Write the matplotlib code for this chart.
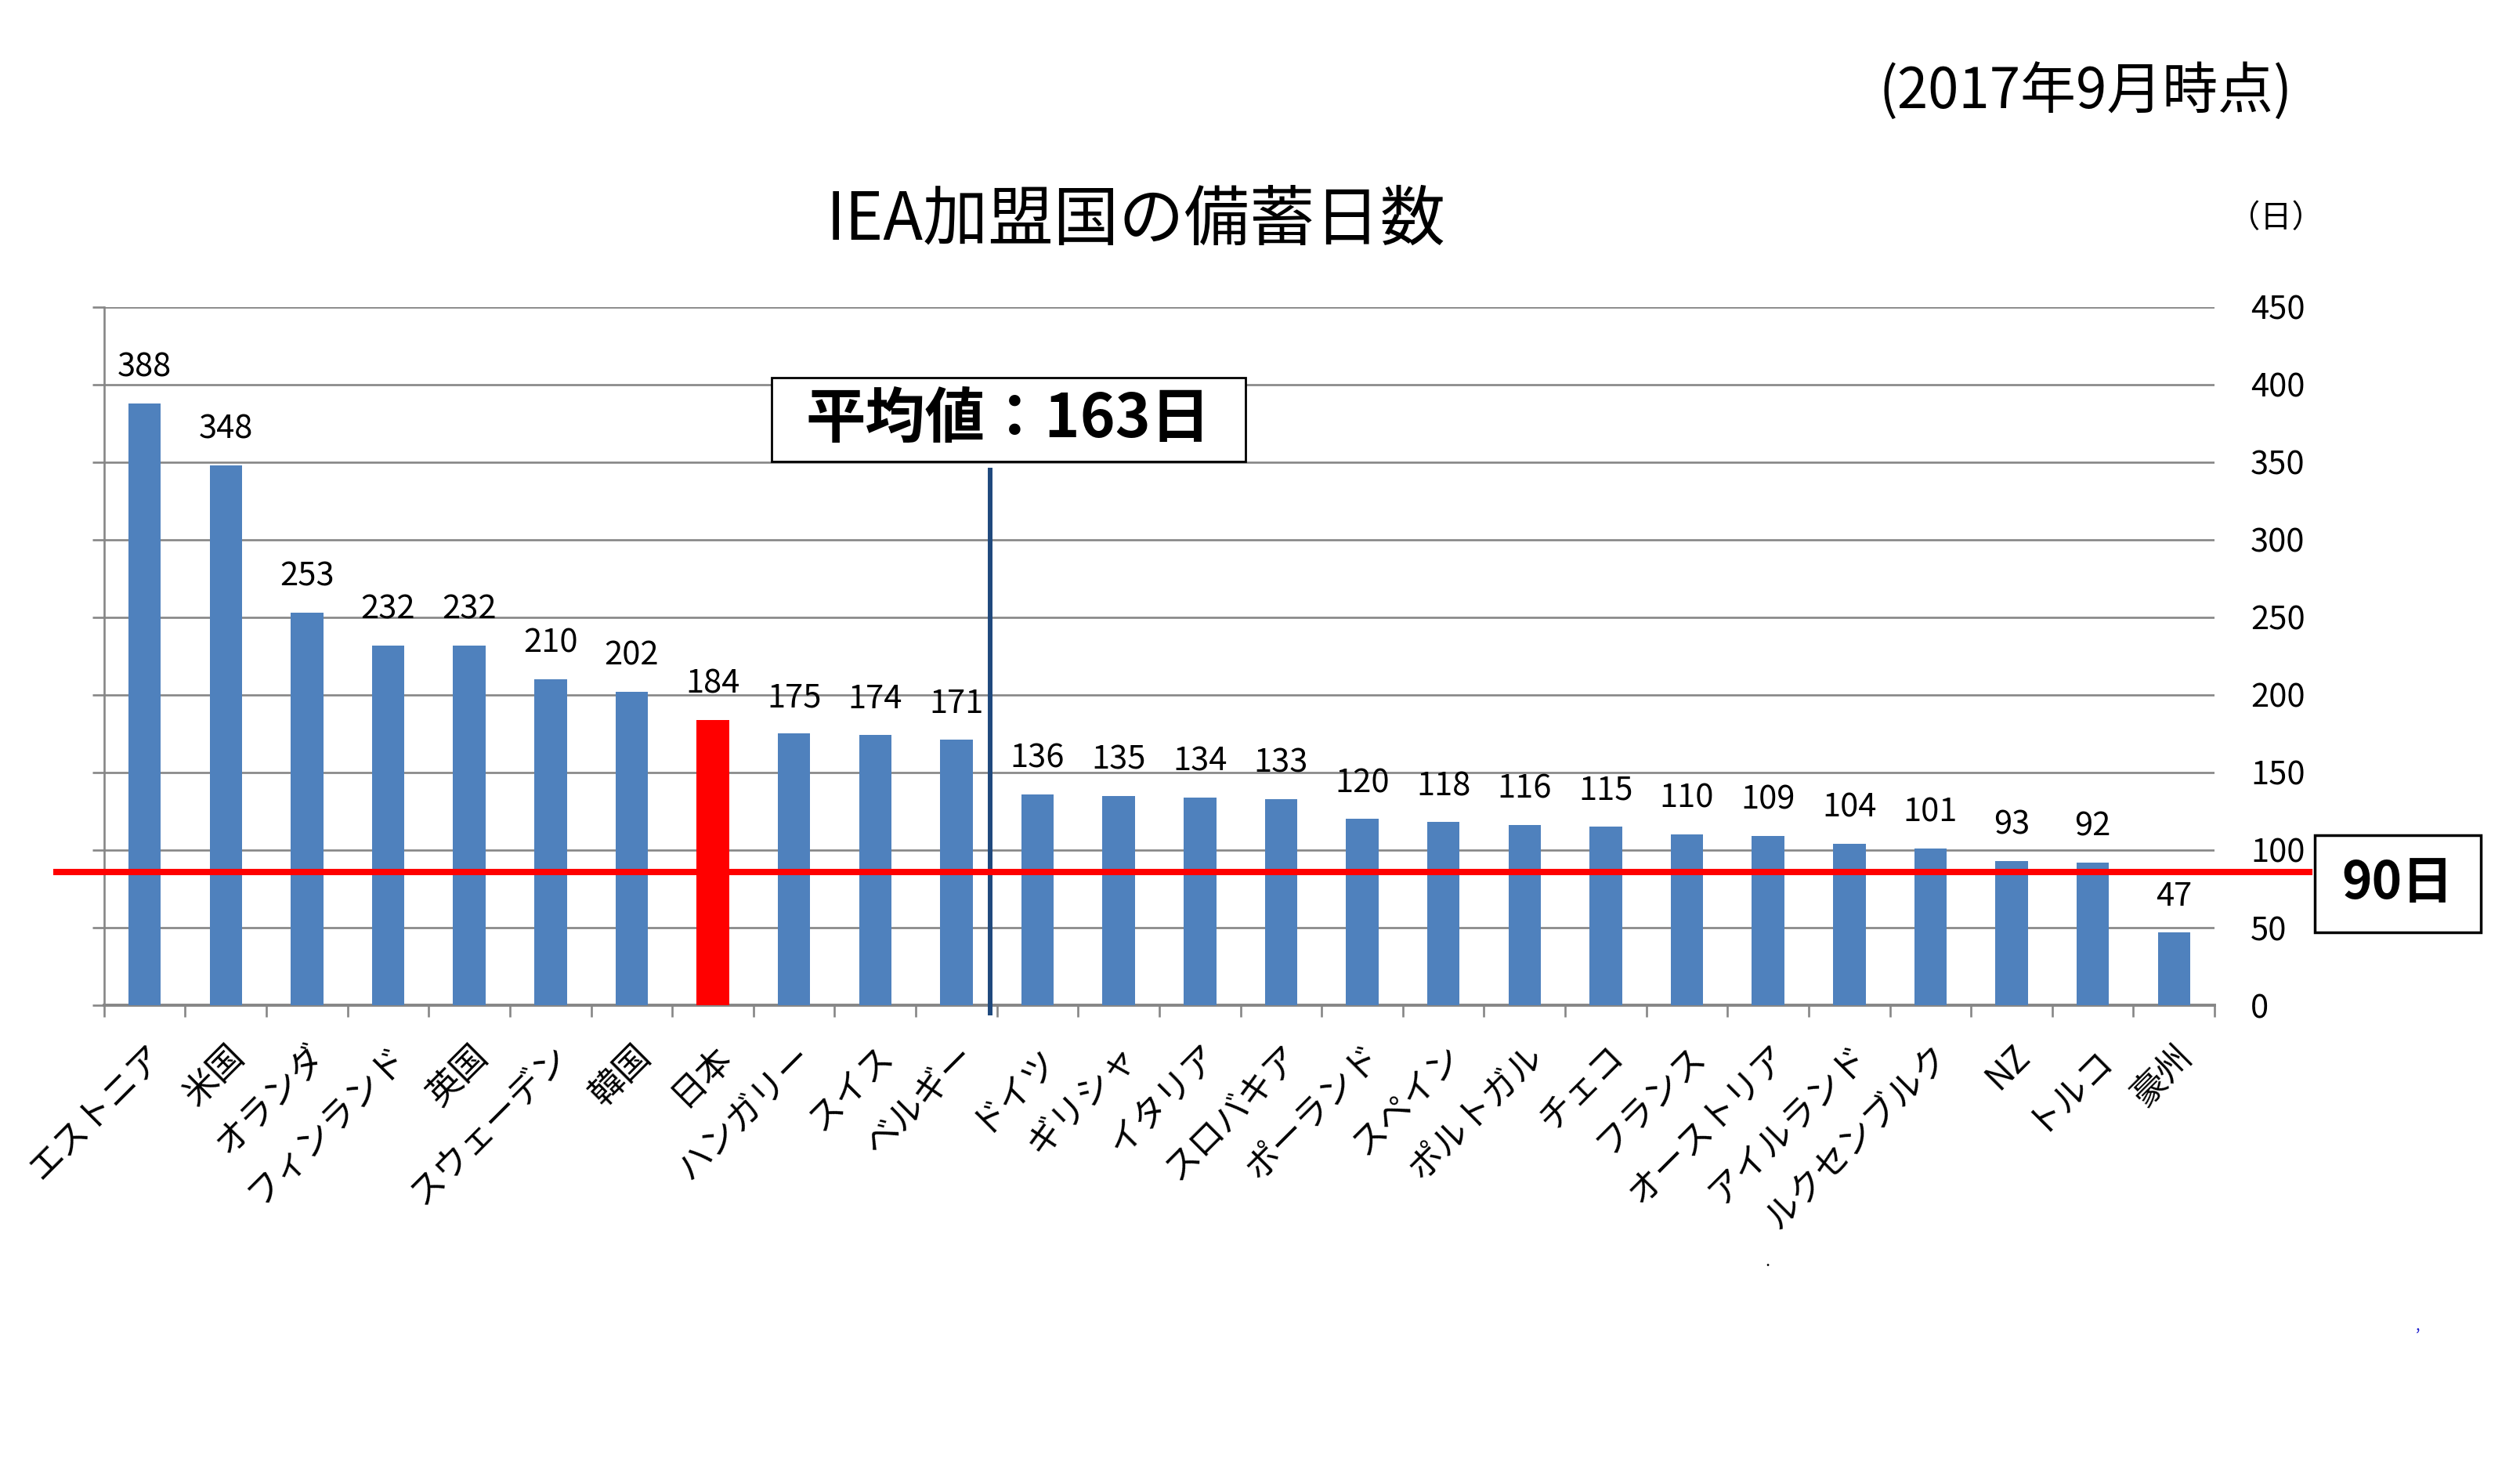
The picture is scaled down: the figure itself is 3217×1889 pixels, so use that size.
import matplotlib
matplotlib.use("Agg")
import matplotlib.pyplot as plt
from matplotlib.patches import Rectangle

plt.rcParams['font.family'] = ['Noto Sans CJK JP', 'DejaVu Sans']

# data (days of stockholding, Sep 2017)
countries = ["エストニア", "米国", "オランダ", "フィンランド", "英国", "スウェーデン", "韓国",
             "日本", "ハンガリー", "スイス", "ベルギー", "ドイツ", "ギリシャ", "イタリア",
             "スロバキア", "ポーランド", "スペイン", "ポルトガル", "チェコ", "フランス",
             "オーストリア", "アイルランド", "ルクセンブルク", "NZ", "トルコ", "豪州"]
days = [388, 348, 253, 232, 232, 210, 202, 184, 175, 174, 171, 136, 135, 134,
        133, 120, 118, 116, 115, 110, 109, 104, 101, 93, 92, 47]
highlight = "日本"
average_days = 163
required_days = 90
yticks = list(range(0, 451, 50))

BLUE = "#4F81BD"
RED = "#FF0000"
GRID = "#868686"

fig = plt.figure(figsize=(32.17, 18.89), dpi=100)
ax = fig.add_axes([0.0413, 0.3208, 0.8375, 0.4717])

xs = list(range(len(countries)))
colors = [RED if c == highlight else BLUE for c in countries]
ax.bar(xs, days, width=0.4, color=colors, zorder=3)

for x, v in zip(xs, days):
    ax.annotate(str(v), xy=(x, v), xytext=(0, 33), textcoords="offset points",
                ha="center", va="center", fontsize=30)

ax.set_xlim(-0.5, len(countries) - 0.5)
ax.set_ylim(0, 450)
ax.set_yticks(yticks)
ax.yaxis.grid(True, color=GRID, lw=1.9, zorder=0)
ax.tick_params(axis="y", left=True, right=False, labelleft=False, labelright=True,
               length=11, width=1.9, color=GRID, pad=22, labelsize=30)

ax.set_xticks(xs)
ax.set_xticklabels(countries, rotation=45, ha="right", rotation_mode="anchor", fontsize=32)
ax.tick_params(axis="x", which="major", length=0, pad=30)
ax.set_xticks([i - 0.5 for i in range(len(countries) + 1)], minor=True)
ax.tick_params(axis="x", which="minor", length=11, width=1.9, color=GRID)

for s in ["top", "right"]:
    ax.spines[s].set_visible(False)
ax.spines["left"].set_color(GRID)
ax.spines["left"].set_linewidth(1.9)
ax.spines["bottom"].set_color(GRID)
ax.spines["bottom"].set_linewidth(2.8)

# average marker line and 90-day line
ax.plot([10.42, 10.42], [345, -5], color="#1F497D", lw=4.3, clip_on=False, zorder=5)
ax.plot([-1.09, 26.67], [86, 86], color=RED, lw=5.8, clip_on=False, zorder=6)

# titles and notes
fig.text(0.4507, 0.8512, "IEA加盟国の備蓄日数", ha="center", va="center", fontsize=60)
fig.text(0.8275, 0.938, "(2017年9月時点)", ha="center", va="center", fontsize=51)
fig.text(0.903, 0.8523, "（日）", ha="center", va="center", fontsize=29)

# boxed callouts
fig.patches.append(Rectangle((0.3062, 0.6882), 0.1881, 0.0566, transform=fig.transFigure,
                             fill=True, facecolor="white", edgecolor="black", lw=2, zorder=7))
fig.text(0.4001, 0.7163, f"平均値：{average_days}日", ha="center", va="center",
         fontsize=55, fontweight="bold", zorder=8)

fig.patches.append(Rectangle((0.9186, 0.3700), 0.0659, 0.0656, transform=fig.transFigure,
                             fill=True, facecolor="white", edgecolor="black", lw=2.5, zorder=7))
fig.text(0.9515, 0.4029, f"{required_days}日", ha="center", va="center",
         fontsize=47, fontweight="bold", zorder=8)

# stray marks in the original slide
fig.text(0.7015, 0.148, ".", ha="center", va="center", fontsize=16)
fig.text(0.9595, 0.104, ",", ha="center", va="center", fontsize=14, color="#1F1FCF")

fig.savefig("out.png", dpi=100)
